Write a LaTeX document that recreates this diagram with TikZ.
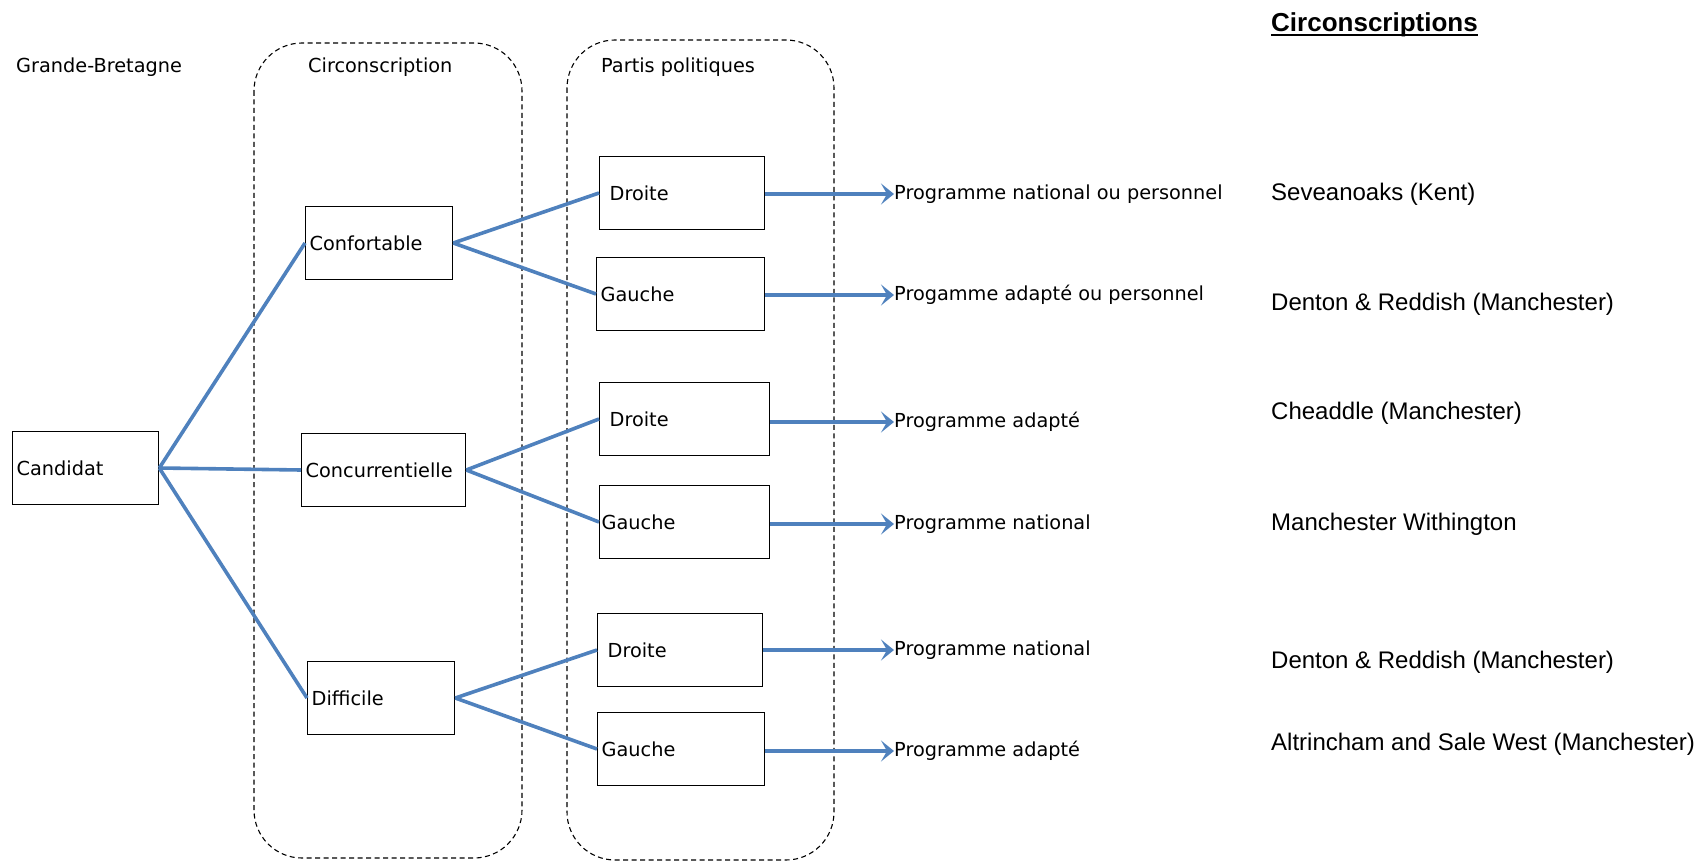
\documentclass[tikz,border=0pt]{standalone}
\usepackage{fontspec}
\setmainfont{DejaVu Sans}
\newfontfamily\arialfont{Liberation Sans}
\usetikzlibrary{arrows.meta}
\definecolor{lienbleu}{RGB}{79,129,189}
\newcommand{\souligne}[1]{\setbox0\hbox{#1}\rlap{\rule[-4.5pt]{\wd0}{2.6pt}}\box0}
\begin{document}
\begin{tikzpicture}[x=1pt,y=-1pt,
  font=\fontsize{19.3}{23}\selectfont,
  boite/.style={draw,black,line width=1.3pt,anchor=west,minimum height=73pt,inner xsep=4pt,align=left},
  groupe/.style={draw,black,line width=1.1pt,dash pattern=on 5pt off 3.5pt,rounded corners=48pt},
  lien/.style={lienbleu,line width=3.6pt},
  fleche/.style={lien,-{Stealth[length=13pt,width=21pt,inset=6pt]}},
  etiq/.style={anchor=west,inner sep=0pt},
  circo/.style={anchor=west,inner sep=0pt,font=\arialfont\fontsize{24}{28}\selectfont}]
\useasboundingbox (0,0) rectangle (1702,861);
% dashed groups
\draw[groupe] (254,43) rectangle (522,858);
\draw[groupe] (567,40) rectangle (834,860);
\node[etiq] (GB) at (16,67) {Grande-Bretagne};
\node[etiq] (TC) at (308,67) {Circonscription};
\node[etiq] (TP) at (601,67) {Partis politiques};
% boxes
\node[boite,text width=138pt] (CA) at (12,468) {\raisebox{-2pt}{Candidat}};
\node[boite,text width=139pt] (CF) at (305,243) {\raisebox{-2pt}{Confortable}};
\node[boite,text width=156pt] (CC) at (301,470) {\raisebox{-2pt}{Concurrentielle}};
\node[boite,text width=139pt] (DF) at (307,698) {\raisebox{-2pt}{Difficile}};
\node[boite,text width=157pt] (D1) at (599,193) {\hspace*{6pt}Droite};
\node[boite,text width=160pt] (G1) at (596,294) {\raisebox{-2pt}{Gauche}};
\node[boite,text width=162pt] (D2) at (599,419) {\hspace*{6pt}\raisebox{-2pt}{Droite}};
\node[boite,text width=162pt] (G2) at (599,522) {\hspace*{-2pt}\raisebox{-2pt}{Gauche}};
\node[boite,text width=157pt] (D3) at (597,650) {\hspace*{6pt}Droite};
\node[boite,text width=159pt] (G3) at (597,749) {\raisebox{-2pt}{Gauche}};
% programmes
\node[etiq] (P1) at (894,194) {Programme national ou personnel};
\node[etiq] (P2) at (894,295) {Progamme adapté ou personnel};
\node[etiq] (P3) at (894,422) {Programme adapté};
\node[etiq] (P4) at (894,524) {Programme national};
\node[etiq] (P5) at (894,650) {Programme national};
\node[etiq] (P6) at (894,751) {Programme adapté};
% circonscriptions
\node[circo,font=\arialfont\bfseries\fontsize{26}{30}\selectfont] (TT) at (1271,25) {\souligne{Circonscriptions}};
\node[circo] (C1) at (1271,194) {Seveanoaks (Kent)};
\node[circo] (C2) at (1271,304) {Denton \& Reddish (Manchester)};
\node[circo] (C3) at (1271,413) {Cheaddle (Manchester)};
\node[circo] (C4) at (1271,524) {Manchester Withington};
\node[circo] (C5) at (1271,662) {Denton \& Reddish (Manchester)};
\node[circo] (C6) at (1271,744) {Altrincham and Sale West (Manchester)};
% links
\foreach \a/\b in {CA/CF,CA/CC,CA/DF,CF/D1,CF/G1,CC/D2,CC/G2,DF/D3,DF/G3}
  \draw[lien] (\a.east) -- (\b.west);
\foreach \b/\p in {D1/P1,G1/P2,D2/P3,G2/P4,D3/P5,G3/P6}
  \draw[fleche] (\b.east |- \p.west) -- (\p.west);
\end{tikzpicture}
\end{document}
